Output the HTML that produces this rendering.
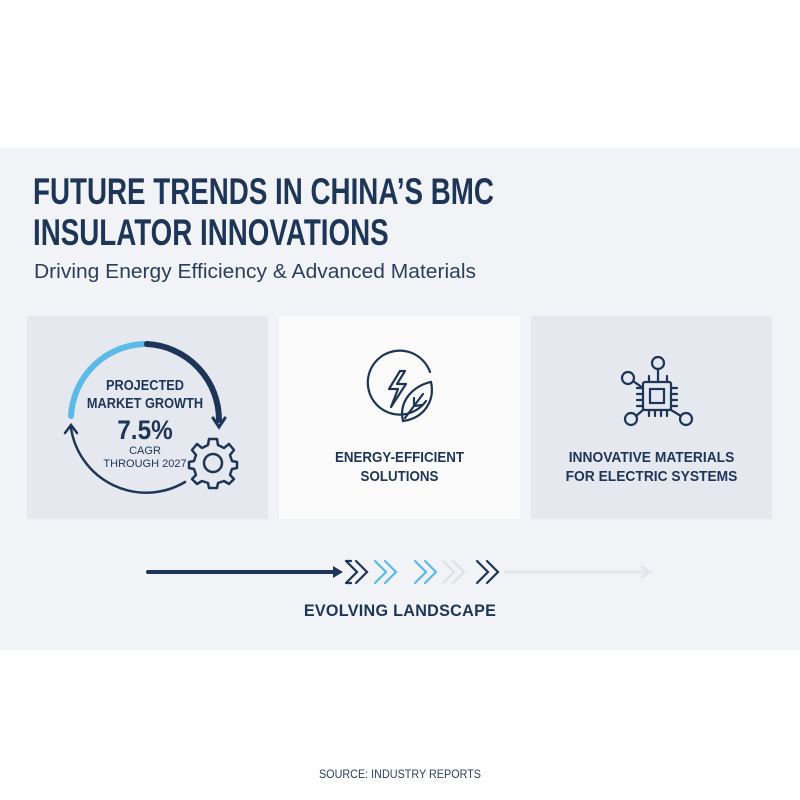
<!DOCTYPE html>
<html><head><style>
body{margin:0;width:800px;height:800px;background:#fff;position:relative;font-family:"Liberation Sans",sans-serif;overflow:hidden}
.band{position:absolute;left:0;top:148px;width:800px;height:502px;background:#f1f3f6}
.t{position:absolute;color:#1d3557;white-space:nowrap}
.card{position:absolute;top:316px;height:203px;width:241px}
</style></head><body>
<div class="band"></div>
<div class="t" style="left:33px;top:171px;font-size:37px;font-weight:bold;line-height:41px;transform:scaleX(0.75);transform-origin:0 0">FUTURE TRENDS IN CHINA’S BMC<br>INSULATOR INNOVATIONS</div>
<div class="t" style="left:34px;top:261px;font-size:20px;color:#2b3f5c;transform:scaleX(1.05);transform-origin:0 0">Driving Energy Efficiency &amp; Advanced Materials</div>
<div class="card" style="left:27px;background:#e5e8ee"></div>
<div class="card" style="left:279px;background:#fbfbfc"></div>
<div class="card" style="left:531px;background:#e5e8ee"></div>
<svg width="800" height="800" style="position:absolute;left:0;top:0" fill="none" stroke-linecap="round">
<path d="M71,416 A76,76 0 0 1 147,344" stroke="#5bbbe8" stroke-width="6"/>
<path d="M147,344 A76,76 0 0 1 219,420" stroke="#1d3557" stroke-width="6"/>
<path d="M213,418 L219,427 L225,418" stroke="#1d3557" stroke-width="3"/>
<path d="M71,428 A76,76 0 0 0 185,482" stroke="#1d3557" stroke-width="2.5"/>
<path d="M65,433 L71,425 L77,433" stroke="#1d3557" stroke-width="2.5"/>
<g transform="translate(213,463)" stroke="#1d3557" stroke-width="2.5">
<circle r="9"/>
<path d="M-4,-24 L4,-24 L5,-18 L11,-15 L16,-19 L21,-13 L17,-8 L19,-2 L24,-1 L24,5 L19,6 L17,12 L21,16 L16,21 L11,18 L5,20 L4,25 L-4,25 L-5,20 L-11,18 L-16,21 L-21,16 L-17,12 L-19,6 L-24,5 L-24,-1 L-19,-2 L-17,-8 L-21,-13 L-16,-19 L-11,-15 L-5,-18 Z" stroke-linejoin="round"/>
</g>
<g stroke="#1d3557" stroke-width="2.2">
<path d="M426,401 A32,32 0 1 1 430,372"/>
<path d="M400,371 L389,389 L398,389 L391,407 L406,384 L397,384 L405,371 Z" stroke-linejoin="round"/>
<path d="M403,421 C398,400 415,385 431,382 C435,400 425,418 403,421 Z M405,418 L423,394 M414,406 L414,398 M414,406 L422,405"/>
</g>
<g stroke="#1d3557" stroke-width="2.2">
<rect x="643" y="382" width="28" height="28" rx="2"/>
<rect x="650" y="389" width="14" height="14"/>
<path d="M637,388h6M637,394h6M637,400h6M637,406h6M671,388h6M671,394h6M671,400h6M671,406h6M649,410v6M655,410v6M661,410v6M667,410v6M649,376v6M667,376v6"/>
<circle cx="658" cy="363" r="6"/><path d="M658,369 V382"/>
<circle cx="628" cy="378" r="6"/><path d="M633,381 L643,388"/>
<circle cx="631" cy="419" r="6"/><path d="M636,416 L643,410"/>
<circle cx="686" cy="419" r="6"/><path d="M681,416 L671,410"/>
</g>
<path d="M148,572 H335" stroke="#1d3557" stroke-width="4"/>
<path d="M333,566 L343,572 L333,578 Z" fill="#1d3557"/>
<path d="M505,572 H645" stroke="#e4e8ee" stroke-width="3"/>
<path d="M642,567 L650,572 L642,577" stroke="#e4e8ee" stroke-width="3"/>
<g stroke-width="2.2" stroke-linejoin="miter">
<path d="M346,561 L357,572 L346,583 M356,561 L367,572 L356,583 M346,561h5M346,583h5" stroke="#1d3557"/>
<path d="M375,561 L386,572 L375,583 M385,561 L396,572 L385,583" stroke="#5bbbe8"/>
<path d="M415,561 L426,572 L415,583 M425,561 L436,572 L425,583" stroke="#5bbbe8"/>
<path d="M443,561 L454,572 L443,583 M453,561 L464,572 L453,583" stroke="#dde2ea"/>
<path d="M477,561 L488,572 L477,583 M487,561 L498,572 L487,583" stroke="#1d3557"/>
</g>
</svg>
<div class="t" style="left:70px;top:377px;width:150px;text-align:center;font-size:15px;font-weight:bold;line-height:18px;transform:scaleX(0.85)">PROJECTED<br>MARKET GROWTH</div>
<div class="t" style="left:70px;top:415px;width:150px;text-align:center;font-size:27px;font-weight:bold;transform:scaleX(0.9)">7.5%</div>
<div class="t" style="left:70px;top:445px;width:150px;text-align:center;font-size:11px;line-height:13px">CAGR<br>THROUGH 2027</div>
<div class="t" style="left:279px;top:448px;width:241px;text-align:center;font-size:15px;font-weight:bold;line-height:19px;transform:scaleX(0.89)">ENERGY-EFFICIENT<br>SOLUTIONS</div>
<div class="t" style="left:531px;top:448px;width:241px;text-align:center;font-size:15px;font-weight:bold;line-height:19px;transform:scaleX(0.92)">INNOVATIVE MATERIALS<br>FOR ELECTRIC SYSTEMS</div>
<div class="t" style="left:0;top:601px;width:800px;text-align:center;font-size:17px;font-weight:bold;letter-spacing:0.3px;transform:scaleX(0.95)">EVOLVING LANDSCAPE</div>
<div class="t" style="left:0;top:767px;width:800px;text-align:center;font-size:12px;color:#2b3f5c;transform:scaleX(0.9)">SOURCE: INDUSTRY REPORTS</div>
</body></html>
